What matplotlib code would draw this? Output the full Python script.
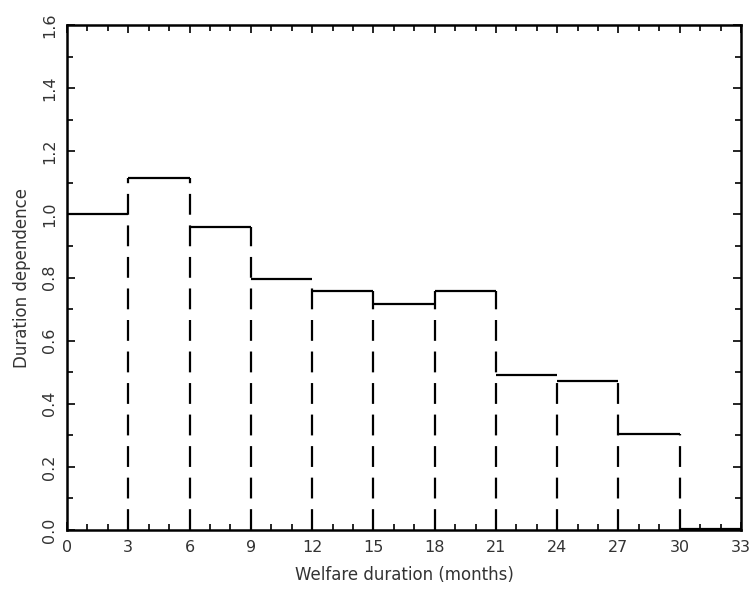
import numpy as np
import matplotlib.pyplot as plt
from matplotlib.ticker import MultipleLocator

plt.rcParams['lines.scale_dashes'] = False

# interval boundaries (months) and duration dependence per interval
edges = [0, 3, 6, 9, 12, 15, 18, 21, 24, 27, 30, 33]
values = [1.0, 1.115, 0.96, 0.795, 0.757, 0.716, 0.757, 0.491, 0.472, 0.304, 0.003]
yticks = [0.0, 0.2, 0.4, 0.6, 0.8, 1.0, 1.2, 1.4, 1.6]

fig = plt.figure(figsize=(7.54, 5.92), dpi=100)
ax = fig.add_axes([0.0889, 0.1047, 0.8939, 0.8531])

# horizontal steps
ax.hlines(values, edges[:-1], edges[1:], colors='black', linewidth=1.6)

# dashed verticals at interior boundaries, up to the higher neighbouring step
for i in range(1, len(edges) - 1):
    top = max(values[i - 1], values[i])
    ax.vlines(edges[i], 0, top, colors='black', linewidth=1.6,
              linestyles=(0, (15, 7.7)))

ax.set_xlim(0, 33)
ax.set_ylim(0, 1.6)
ax.xaxis.set_major_locator(MultipleLocator(3))
ax.xaxis.set_minor_locator(MultipleLocator(1))
ax.set_yticks(yticks)
ax.set_yticklabels([f"{v:.1f}" for v in yticks], rotation=90, va='center')
ax.yaxis.set_minor_locator(MultipleLocator(0.1))
ax.tick_params(which='both', direction='in', top=True, right=True, width=1.2,
               labelcolor='#333333')
ax.tick_params(which='major', length=6, labelsize=11.5, pad=7)
ax.tick_params(which='minor', length=4)
for s in ax.spines.values():
    s.set_linewidth(1.8)

ax.set_xlabel("Welfare duration (months)", fontsize=12, labelpad=8, color='#333333')
ax.set_ylabel("Duration dependence", fontsize=12, labelpad=8, color='#333333')

fig.savefig("out.png", dpi=100)
